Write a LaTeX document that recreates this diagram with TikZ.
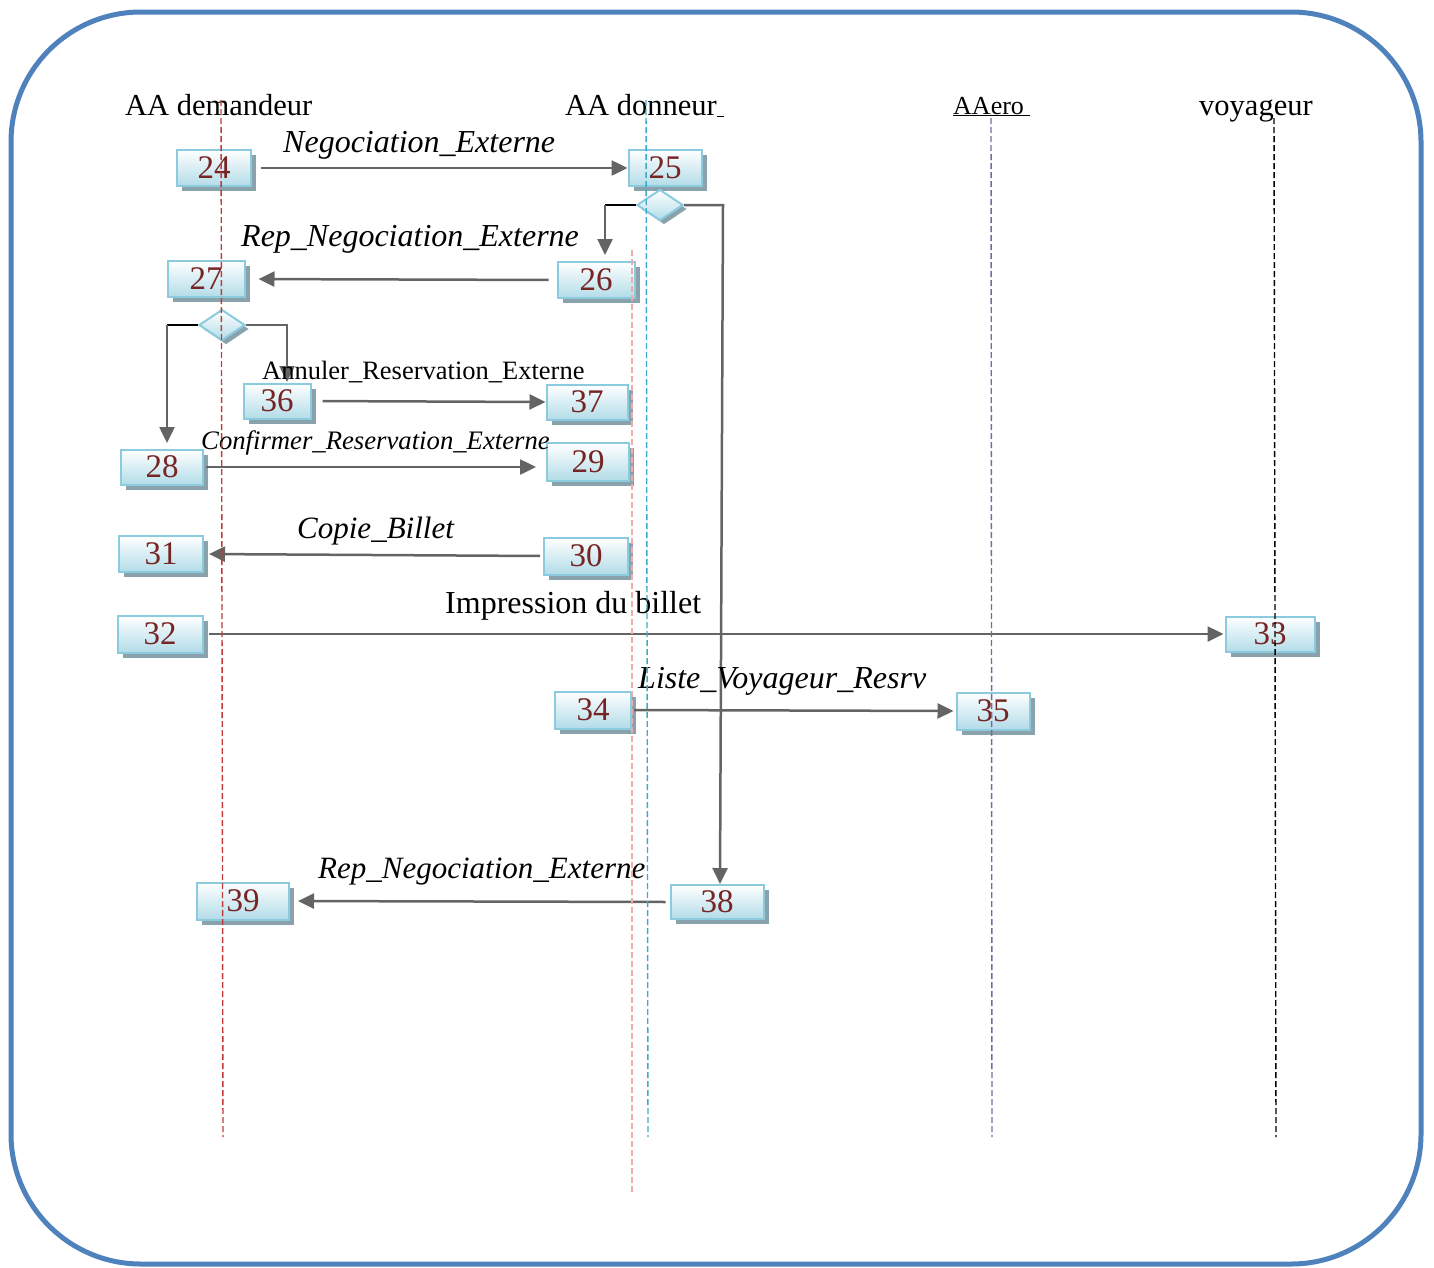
\documentclass[tikz,border=0pt]{standalone}
\usepackage{fontspec}
\setmainfont{Liberation Serif}
\usetikzlibrary{shapes.geometric,arrows.meta,shadows}
\definecolor{frameblue}{RGB}{79,129,189}
\definecolor{boxborder}{RGB}{140,203,221}
\definecolor{boxfill}{RGB}{178,220,232}
\definecolor{shadowc}{RGB}{138,162,172}
\definecolor{numred}{RGB}{118,36,36}
\definecolor{msgc}{RGB}{100,100,100}
\definecolor{lred}{RGB}{192,60,60}
\definecolor{lpink}{RGB}{240,170,170}
\definecolor{lblue}{RGB}{60,170,205}
\definecolor{lpurple}{RGB}{128,100,162}
\tikzset{
  stepbox/.style={draw=boxborder, line width=2pt, top color=white, bottom color=boxfill,
    inner sep=0pt, minimum height=36pt, text=numred,
    font=\fontsize{33}{36}\selectfont,
    drop shadow={shadow xshift=5pt, shadow yshift=-5pt, fill=shadowc, opacity=1}},
  choice/.style={shape=diamond, draw=boxborder, line width=2pt, top color=white, bottom color=boxfill,
    inner sep=0pt, minimum width=46pt, minimum height=31pt,
    drop shadow={shadow xshift=4pt, shadow yshift=-4pt, fill=shadowc, opacity=1}},
  msg/.style={draw=msgc, line width=2.5pt, -{Triangle[length=16pt,width=15pt]}},
  blackseg/.style={draw=black, line width=1.5pt},
  life/.style={line width=1.4pt, dash pattern=on 6pt off 3pt},
  head/.style={anchor=base west, inner sep=0pt, font=\fontsize{30.5}{34}\selectfont},
  lab/.style={anchor=base west, inner sep=0pt, font=\fontsize{32}{35}\selectfont\itshape},
}
\begin{document}
\begin{tikzpicture}[x=1pt,y=-1pt]
\useasboundingbox (0,0) rectangle (1434,1267);
% frame
\draw[frameblue, line width=5pt, rounded corners=130pt] (11,12) rectangle (1421,1264);

% headers
\node[head] (hA) at (125,115) {AA demandeur};
\node[head] (hB) at (565,115) {AA donneur\underline{\ }};
\node[head, font=\fontsize{26}{30}\selectfont] (hC) at (953,114) {\underline{AAero\ }};
\node[head] (hD) at (1199,115) {voyageur};

% boxes
\node[stepbox, minimum width=74pt] (n24) at (214,168) {24};
\node[stepbox, minimum width=73pt] (n25) at (665,168) {25};
\node[stepbox, minimum width=77pt] (n26) at (596,280) {26};
\node[stepbox, minimum width=77pt] (n27) at (206,279) {27};
\node[stepbox, minimum width=67pt, minimum height=35pt] (n36) at (277,401) {36};
\node[stepbox, minimum width=81pt, minimum height=35pt] (n37) at (587,402) {37};
\node[stepbox, minimum width=82pt, minimum height=35pt] (n28) at (162,467) {28};
\node[stepbox, minimum width=82pt, minimum height=38pt] (n29) at (588,462) {29};
\node[stepbox, minimum width=84pt] (n31) at (161,554) {31};
\node[stepbox, minimum width=84pt, minimum height=37pt] (n30) at (586,556) {30};
\node[stepbox, minimum width=85pt, minimum height=37pt] (n32) at (160,634) {32};
\node[stepbox, minimum width=89pt, minimum height=35pt] (n33) at (1270,634) {33};
\node[stepbox, minimum width=76pt, minimum height=37pt] (n34) at (593,710) {34};
\node[stepbox, minimum width=73pt, minimum height=37pt] (n35) at (993,711) {35};
\node[stepbox, minimum width=93pt, minimum height=34pt] (n38) at (717,902) {38};
\node[stepbox, minimum width=92pt, minimum height=37pt] (n39) at (243,901) {39};

% decision diamonds
\node[choice] (d1) at (660,205) {};
\node[choice] (d2) at (222,325) {};

% corner coordinates
\coordinate (d1l) at (605,205);
\coordinate (d1ltip) at (605,255);
\coordinate (d1r) at (723,205);
\coordinate (d38) at (720,884);
\coordinate (d2l) at (167,325);
\coordinate (d2ltip) at (167,443);
\coordinate (d2r) at (287,325);
\coordinate (d2rtip) at (287,382);

% messages
\draw[msg, shorten <=9pt] (n24.east) -- (n25.west);
\draw[msg, shorten <=8pt, shorten >=13pt] (n26.west) -- (n27.east);
\draw[blackseg] (d1.west) -- (d1l);
\draw[msg] (d1l) -- (d1ltip);
\draw[msg] (d1.east) -- (d1r) -- (d38);
\draw[blackseg] (d2.west) -- (d2l);
\draw[msg] (d2l) -- (d2ltip);
\draw[msg] (d2.east) -- (d2r) -- (d2rtip);
\draw[msg, shorten <=11pt, shorten >=0pt] (n36.east) -- (n37.west);
\draw[msg, shorten <=2pt, shorten >=10pt] (n28.east) -- (n29.west |- n28.east);
\draw[msg, shorten <=3pt, shorten >=5pt] (n30.west) -- (n31.east);
\draw[msg, shorten <=5pt, shorten >=1pt] (n32.east) -- (n33.west);
\draw[msg, shorten <=2pt, shorten >=2pt] (n34.east) -- (n35.west);
\draw[msg, shorten <=4pt, shorten >=8pt] (n38.west) -- (n39.east);

% labels
\node[lab] (l1) at (283,152) {Negociation\_Externe};
\node[lab] (l2) at (241,246) {Rep\_Negociation\_Externe};
\node[lab, font=\fontsize{26.5}{30}\selectfont\upshape] (l3) at (262,379) {Annuler\_Reservation\_Externe};
\node[lab, font=\fontsize{26.7}{30}\selectfont\itshape] (l4) at (201,449) {Confirmer\_Reservation\_Externe};
\node[lab, font=\fontsize{31}{35}\selectfont\itshape] (l5) at (297,538) {Copie\_Billet};
\node[lab, font=\fontsize{32}{35}\selectfont\upshape] (l6) at (445,613) {Impression du billet};
\node[lab] (l7) at (638,688) {Liste\_Voyageur\_Resrv};
\node[lab, font=\fontsize{31}{35}\selectfont\itshape] (l8) at (318,878) {Rep\_Negociation\_Externe};

% lifelines
\coordinate (lr1) at (221,100); \coordinate (lr2) at (223,1137);
\coordinate (lp1) at (632,250); \coordinate (lp2) at (632,1193);
\coordinate (lb1) at (646,100); \coordinate (lb2) at (648,1137);
\coordinate (lu1) at (991,118); \coordinate (lu2) at (992,1137);
\coordinate (lk1) at (1274,118); \coordinate (lk2) at (1276,1137);
\draw[life, lred] (lr1) -- (lr2);
\draw[life, lpink] (lp1) -- (lp2);
\draw[life, lblue] (lb1) -- (lb2);
\draw[life, lpurple] (lu1) -- (lu2);
\draw[life, black] (lk1) -- (lk2);
\end{tikzpicture}
\end{document}
